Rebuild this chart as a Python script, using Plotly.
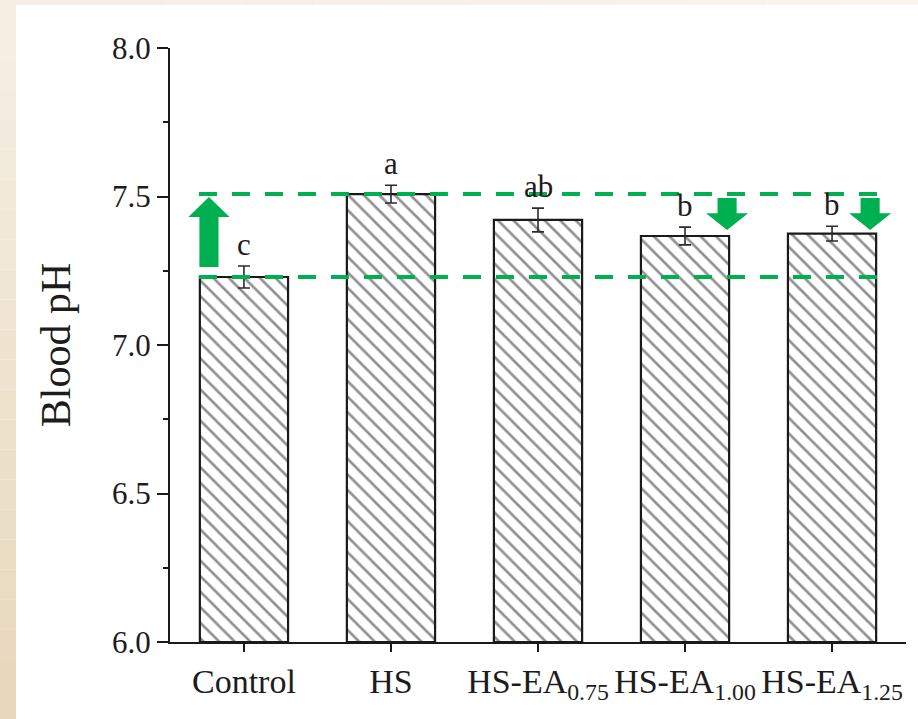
import plotly.graph_objects as go

categories = ["Control", "HS", "HS-EA<sub>0.75</sub>", "HS-EA<sub>1.00</sub>", "HS-EA<sub>1.25</sub>"]
ph_values = [7.229, 7.508, 7.421, 7.367, 7.375]
ph_errors = [0.037, 0.030, 0.040, 0.030, 0.025]
sig_letters = ["c", "a", "ab", "b", "b"]
y_ticks = [6.0, 6.5, 7.0, 7.5, 8.0]

W, H = 918, 719
ML, MR, MT, MB = 170, 12, 48, 77
pw = W - ML - MR
ph = H - MT - MB
FONT = "Liberation Serif, Times New Roman, serif"
GREEN = "#00B050"
INK = "#1a1a1a"

xpos = list(range(len(categories)))

fig = go.Figure()
fig.add_trace(go.Bar(
    x=xpos, y=[v - 6.0 for v in ph_values], base=6.0,
    width=0.6,
    marker=dict(color="white",
                line=dict(color=INK, width=2.2),
                pattern=dict(shape="\\", fgcolor="#222222", bgcolor="white",
                             size=11, solidity=0.24)),
    error_y=dict(type="data", array=ph_errors, visible=True,
                 color="#2a2a2a", thickness=1.6, width=6),
    showlegend=False, hoverinfo="skip",
))

shapes = []
# background border (beige gradient strips)
n = 24
for i in range(n):
    t = i / (n - 1)
    r = int(0xF6 + (0xE8 - 0xF6) * t)
    g = int(0xEF + (0xD9 - 0xEF) * t)
    b = int(0xE4 + (0xBC - 0xE4) * t)
    shapes.append(dict(type="rect", xref="paper", yref="paper", layer="below",
                       x0=-ML / pw, x1=(16 - ML) / pw,
                       y0=1 + MT / ph - (H / ph) * i / n,
                       y1=1 + MT / ph - (H / ph) * (i + 1) / n,
                       fillcolor=f"rgb({r},{g},{b})", line=dict(width=0)))
m = 12
for i in range(m):
    t = i / (m - 1)
    r = int(0xF5 + (0xF9 - 0xF5) * t)
    g = int(0xEE + (0xF5 - 0xEE) * t)
    b = int(0xE2 + (0xEE - 0xE2) * t)
    shapes.append(dict(type="rect", xref="paper", yref="paper", layer="below",
                       x0=(16 - ML) / pw + (W - 16) / pw * i / m,
                       x1=(16 - ML) / pw + (W - 16) / pw * (i + 1) / m,
                       y0=1 + (MT - 5) / ph, y1=1 + MT / ph,
                       fillcolor=f"rgb({r},{g},{b})", line=dict(width=0)))

# dashed reference lines at Control and HS levels
for lv in (ph_values[0], ph_values[1]):
    shapes.append(dict(type="line", xref="x", yref="y",
                       x0=-0.306, x1=4.327, y0=lv, y1=lv,
                       line=dict(color=GREEN, width=4, dash="18px,15px")))

# arrows (x offsets in category units, y in pH)
def up_arrow(xc, yb, yt, yh, sw=0.065, hw=0.14):
    return (f"M {xc-sw},{yb} L {xc+sw},{yb} L {xc+sw},{yh} L {xc+hw},{yh} "
            f"L {xc},{yt} L {xc-hw},{yh} L {xc-sw},{yh} Z")

def down_arrow(xc, yt, yb, yh, sw=0.065, hw=0.143):
    return (f"M {xc-sw},{yt} L {xc+sw},{yt} L {xc+sw},{yh} L {xc+hw},{yh} "
            f"L {xc},{yb} L {xc-hw},{yh} L {xc-sw},{yh} Z")

shapes.append(dict(type="path", xref="x", yref="y",
                   path=up_arrow(-0.238, 7.263, 7.498, 7.431),
                   fillcolor=GREEN, line=dict(width=0)))
for xc in (3.286, 4.259):
    shapes.append(dict(type="path", xref="x", yref="y",
                       path=down_arrow(xc, 7.495, 7.387, 7.444),
                       fillcolor=GREEN, line=dict(width=0)))

annotations = []
for i, (v, e, s) in enumerate(zip(ph_values, ph_errors, sig_letters)):
    annotations.append(dict(x=i, y=v + e, text=s, showarrow=False,
                            xref="x", yref="y", yanchor="bottom", yshift=2,
                            font=dict(family=FONT, size=31, color="#1c1c1c")))

fig.update_layout(
    width=W, height=H,
    margin=dict(l=ML, r=MR, t=MT, b=MB),
    paper_bgcolor="white", plot_bgcolor="white",
    shapes=shapes, annotations=annotations,
    font=dict(family=FONT, color="#1c1c1c"),
    xaxis=dict(range=[-0.503, 4.503], tickmode="array", tickvals=xpos,
               ticktext=categories, showgrid=False, zeroline=False,
               showline=True, linecolor=INK, linewidth=2.2,
               ticks="outside", ticklen=8, tickwidth=2, tickcolor=INK,
               tickfont=dict(family=FONT, size=34, color="#1c1c1c")),
    yaxis=dict(range=[6.0, 8.0], tickmode="array", tickvals=y_ticks,
               ticktext=[f"{t:.1f}" for t in y_ticks],
               showgrid=False, zeroline=False,
               showline=True, linecolor=INK, linewidth=2.2,
               ticks="outside", ticklen=11, tickwidth=2, tickcolor=INK,
               minor=dict(dtick=0.25, tick0=6.0, ticks="outside", ticklen=5,
                          tickwidth=2, tickcolor=INK, showgrid=False),
               tickfont=dict(family=FONT, size=31, color="#1c1c1c"),
               title=dict(text="Blood pH", standoff=28,
                          font=dict(family=FONT, size=42, color="#1c1c1c"))),
)

fig.write_html("out.html", config={"displayModeBar": False},
               post_script="document.body.style.margin='0';document.body.style.padding='0';")
